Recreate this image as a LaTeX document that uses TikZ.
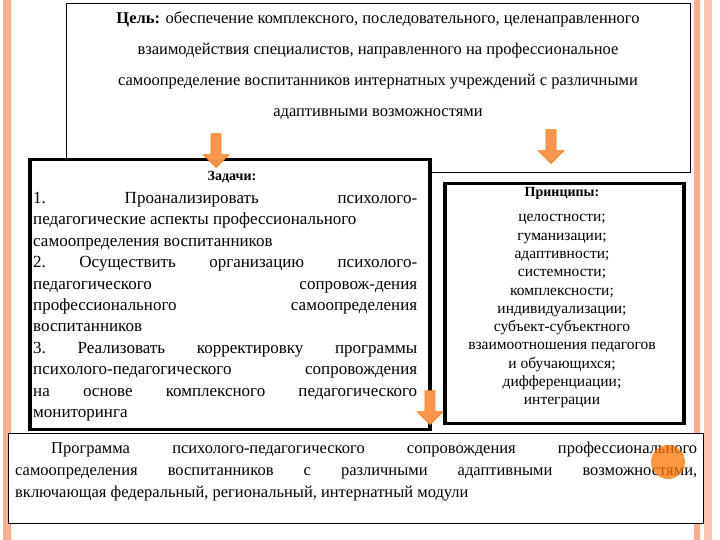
\documentclass[tikz,border=0pt]{standalone}
\usepackage{fontspec}
\setmainfont{Liberation Serif}
\usetikzlibrary{shapes.arrows}
\begin{document}
\begin{tikzpicture}[x=1pt,y=1pt,
  thinbox/.style={draw=black,line width=0.8pt,fill=white},
  thickbox/.style={draw=black,line width=3.5pt,fill=white},
  downarrow/.style={single arrow,shape border rotate=270,draw=orange!70!brown,fill=orange!80!red!70,line width=0.6pt,minimum height=34pt,minimum width=26pt,single arrow head extend=5pt,inner sep=3pt},
  txt/.style={font=\fontsize{17}{21.4}\selectfont}]
\useasboundingbox (0,0) rectangle (720,540);
\fill[white] (0,0) rectangle (720,540);
% side borders
\fill[orange!25!pink] (3,0) rectangle (11,540);
\fill[orange!25!pink] (694,0) rectangle (700,540);
\fill[orange!20!pink!80] (704,0) rectangle (712,540);
% goal box
\node[thinbox,minimum width=624pt,minimum height=169pt,anchor=north west] (goal) at (66,537) {};
\node[align=center,font=\fontsize{16.5}{31}\selectfont] (goaltxt) at (378,474) {\textbf{Цель:} обеспечение комплексного, последовательного, целенаправленного\\взаимодействия специалистов, направленного на профессиональное\\самоопределение воспитанников интернатных учреждений с различными\\адаптивными возможностями};
% tasks box
\node[thickbox,minimum width=400pt,minimum height=270pt,anchor=north west] (tasks) at (28,382) {};
\node[font=\bfseries\fontsize{14}{14}\selectfont] (taskstitle) at (232,363) {Задачи:};
\node[txt,text width=384pt,align=justify,anchor=north west,inner sep=1pt] (taskstxt) at (32,349) {1.\hfill Проанализировать\hfill психолого-\\педагогические аспекты профессионального\\самоопределения воспитанников\\2.\hfill Осуществить\hfill организацию\hfill психолого-\\педагогического\hfill сопровож-дения\\профессионального\hfill самоопределения\\воспитанников\\3.\hfill Реализовать\hfill корректировку\hfill программы\\психолого-педагогического\hfill сопровождения\\на\hfill основе\hfill комплексного\hfill педагогического\\мониторинга};
% principles box
\node[thickbox,minimum width=239pt,minimum height=240pt,anchor=north west] (princ) at (443,358) {};
\node[font=\bfseries\fontsize{14}{14}\selectfont] (princtitle) at (562,347) {Принципы:};
\node[align=center,font=\fontsize{15.5}{18.3}\selectfont,anchor=north] (princtxt) at (562,329) {целостности;\\гуманизации;\\адаптивности;\\системности;\\комплексности;\\индивидуализации;\\субъект-субъектного\\взаимоотношения педагогов\\и обучающихся;\\дифференциации;\\интеграции};
% bottom box
\node[thinbox,minimum width=695pt,minimum height=90pt,anchor=north west] (prog) at (8,107) {};
\node[text width=682pt,align=justify,anchor=north west,font=\fontsize{16.5}{22}\selectfont,inner sep=1pt] (progtxt) at (14,99) {\hspace*{36pt}Программа\hfill психолого-педагогического\hfill сопровождения\hfill профессионального\\самоопределения\hfill воспитанников\hfill с\hfill различными\hfill адаптивными\hfill возможностями,\\включающая федеральный, региональный, интернатный модули};
\fill[orange!90!red,opacity=0.75] (668,78) circle (17);
% arrows
\node[downarrow] (a1) at (216,392) {};
\node[downarrow] (a2) at (551,396) {};
\node[downarrow] (a3) at (430,135) {};
\end{tikzpicture}
\end{document}
